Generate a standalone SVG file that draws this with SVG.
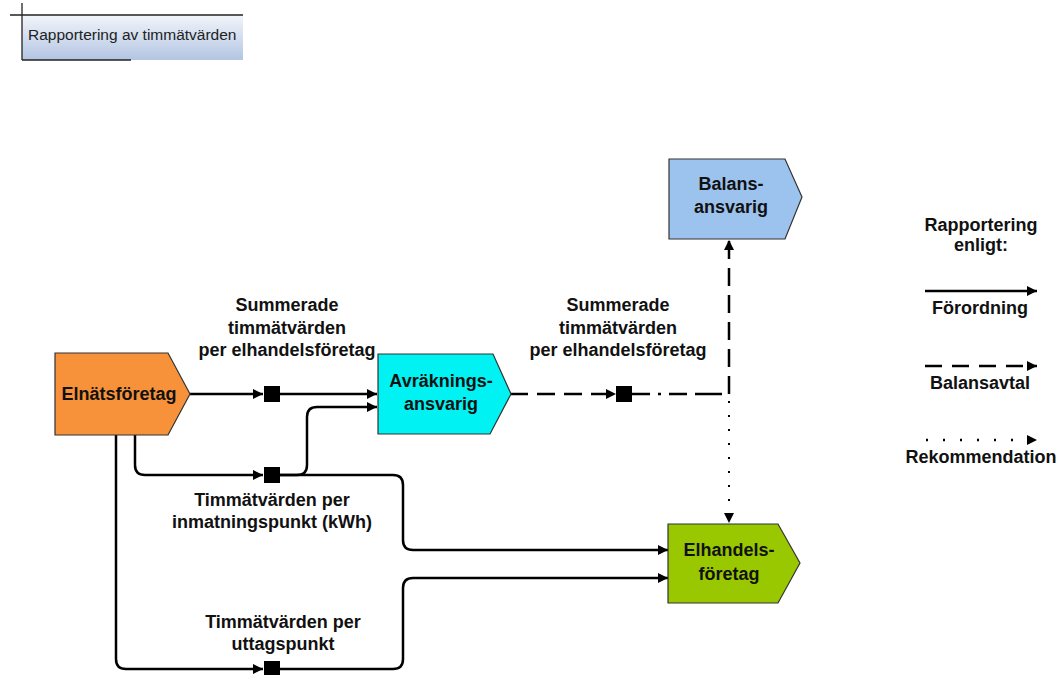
<svg xmlns="http://www.w3.org/2000/svg" width="1059" height="675" viewBox="0 0 1059 675">
<defs>
<linearGradient id="tg" x1="0" y1="0" x2="0" y2="1">
<stop offset="0" stop-color="#f2f5fa"/>
<stop offset="1" stop-color="#b3c5e3"/>
</linearGradient>
<marker id="ah" viewBox="0 0 10 10" refX="10" refY="5" markerWidth="10" markerHeight="10" markerUnits="userSpaceOnUse" orient="auto">
<path d="M0,0 L10,5 L0,10 Z" fill="#000"/>
</marker>
</defs>
<style>
.lbl{font-family:"Liberation Sans",Arial,sans-serif;font-weight:bold;font-size:18px;fill:#111;text-anchor:middle}
.node{stroke:#333;stroke-width:1.2}
.c{fill:none;stroke:#000;stroke-width:2.5}
.d{stroke-dasharray:18 9}
.dot{stroke-dasharray:2 12;stroke-width:2}
.sq{fill:#000}
</style>
<rect width="1059" height="675" fill="#fff"/>
<g id="title">
<rect x="22" y="15" width="221" height="45" fill="url(#tg)"/>
<line x1="10" y1="15" x2="243" y2="15" stroke="#222" stroke-width="1.3"/>
<line x1="22" y1="3" x2="22" y2="60" stroke="#222" stroke-width="1.3"/>
<line x1="22" y1="60" x2="131" y2="60" stroke="#222" stroke-width="1.3"/>
<text x="28" y="40" font-family="Liberation Sans,Arial,sans-serif" font-size="15.5" fill="#222">Rapportering av timmätvärden</text>
</g>
<g id="connectors">
<path class="c" d="M190,394 H263" marker-end="url(#ah)"/>
<path class="c" d="M280,394 H377" marker-end="url(#ah)"/>
<path class="c" d="M135,435 V465 Q135,475 145,475 H263" marker-end="url(#ah)"/>
<path class="c" d="M280,475 H297 Q307,475 307,465 V417 Q307,407 317,407 H377" marker-end="url(#ah)"/>
<path class="c" d="M280,475 H393 Q403,475 403,485 V540 Q403,550 413,550 H668" marker-end="url(#ah)"/>
<path class="c" d="M116,435 V659 Q116,669 126,669 H263" marker-end="url(#ah)"/>
<path class="c" d="M280,669 H393 Q403,669 403,659 V588 Q403,578 413,578 H668" marker-end="url(#ah)"/>
<path class="c d" d="M510,394 H616" marker-end="url(#ah)"/>
<path class="c" d="M632,394 H722" stroke-dasharray="18 8 3 8 18 8 22 0"/>
<path class="c d" d="M729,394 V240" marker-end="url(#ah)"/>
<path class="c dot" d="M729,401 V523" marker-end="url(#ah)"/>
<rect class="sq" x="264" y="386" width="16" height="16"/>
<rect class="sq" x="264" y="467" width="16" height="16"/>
<rect class="sq" x="264" y="661" width="16" height="16"/>
<rect class="sq" x="616" y="386" width="16" height="16"/>
</g>
<g id="elnat">
<path class="node" d="M55,353 H168 L190,394 L168,435 H55 Z" fill="#f7923a"/>
<text class="lbl" x="119" y="400">Elnätsföretag</text>
</g>
<g id="avrakning">
<path class="node" d="M378,354 H493 L511,394 L490,434 H378 Z" fill="#00f2f2"/>
<text class="lbl" x="441" y="387">Avräknings-</text>
<text class="lbl" x="441" y="410">ansvarig</text>
</g>
<g id="balans">
<path class="node" d="M669,159 H785 L802,197 L785,239 H669 Z" fill="#9cc3ee"/>
<text class="lbl" x="731" y="190">Balans-</text>
<text class="lbl" x="731" y="213">ansvarig</text>
</g>
<g id="elhandel">
<path class="node" d="M668,524 H778 L800,563 L778,603 H668 Z" fill="#99c800"/>
<text class="lbl" x="729" y="556">Elhandels-</text>
<text class="lbl" x="729" y="580">företag</text>
</g>
<g id="labels">
<text class="lbl" x="287" y="311">Summerade</text>
<text class="lbl" x="287" y="334">timmätvärden</text>
<text class="lbl" x="287" y="356">per elhandelsföretag</text>
<text class="lbl" x="618" y="311">Summerade</text>
<text class="lbl" x="618" y="334">timmätvärden</text>
<text class="lbl" x="618" y="356">per elhandelsföretag</text>
<text class="lbl" x="272" y="506">Timmätvärden per</text>
<text class="lbl" x="272" y="528">inmatningspunkt (kWh)</text>
<text class="lbl" x="283" y="628">Timmätvärden per</text>
<text class="lbl" x="283" y="650">uttagspunkt</text>
</g>
<g id="legend">
<text class="lbl" x="981" y="231">Rapportering</text>
<text class="lbl" x="981" y="251">enligt:</text>
<path class="c" d="M925,291 H1037" marker-end="url(#ah)"/>
<text class="lbl" x="980" y="314">Förordning</text>
<path class="c" d="M925,366 H1037" stroke-dasharray="17 10" marker-end="url(#ah)"/>
<text class="lbl" x="980" y="389">Balansavtal</text>
<path class="c" d="M926,440 H1037" stroke-dasharray="2 15" stroke-width="2" marker-end="url(#ah)"/>
<text class="lbl" x="981" y="463">Rekommendation</text>
</g>
</svg>
